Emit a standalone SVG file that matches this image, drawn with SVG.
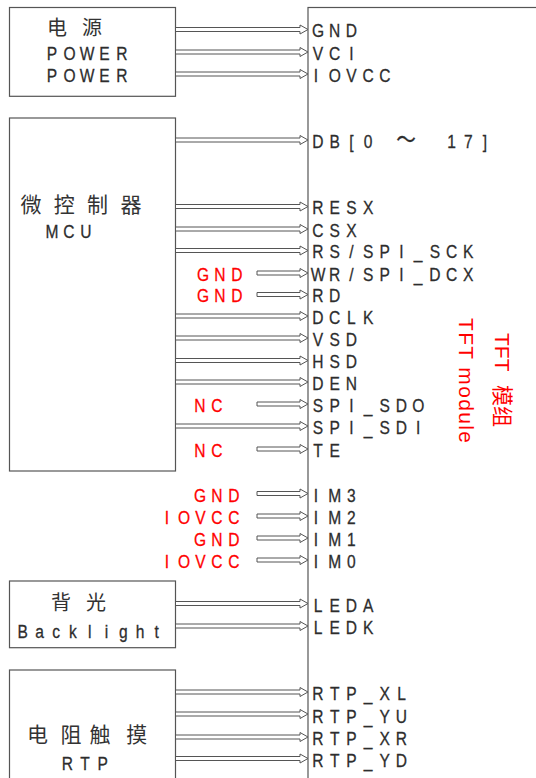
<svg xmlns="http://www.w3.org/2000/svg" xmlns:xlink="http://www.w3.org/1999/xlink" width="536" height="778" viewBox="0 0 536 778">
<style>
.box{fill:none;stroke:#555;stroke-width:1.2}
.t{font-family:"Liberation Sans","Noto Sans CJK SC",sans-serif;font-size:19px;fill:#2d2d2d;stroke:#2d2d2d;stroke-width:0.3;text-anchor:middle}
.r{fill:#ff0000;stroke:#ff0000}
.cjk{font-family:"Noto Sans CJK SC",sans-serif;font-size:20px;fill:#333;text-anchor:middle}
.rot{font-family:"Liberation Sans","Noto Sans CJK SC",sans-serif;font-size:21px;fill:#ff0000}
.arr{fill:#fff;stroke:#555;stroke-width:1}
</style>
<defs>
<path id="aL" class="arr" d="M176,-2H300V-4.5L308,0L300,4.5V2H176"/>
<path id="aS" class="arr" d="M257,-2H300V-4.5L308,0L300,4.5V2H257Z"/>
</defs>
<rect width="536" height="778" fill="#fff"/>

<g id="power">
<rect class="box" x="9.5" y="7.5" width="166" height="88.8"/>
<text class="cjk" x="57 92" y="35.3">电源</text>
<text class="t" transform="scale(0.82,1)" x="63.41 84.76 106.1 127.44 148.78" y="60">POWER</text>
<text class="t" transform="scale(0.82,1)" x="63.41 84.76 106.1 127.44 148.78" y="82.3">POWER</text>
</g>

<g id="mcu">
<rect class="box" x="9.5" y="118" width="166" height="353"/>
<text class="cjk" style="font-size:21px" x="31 64.3 97.6 131" y="211.5">微控制器</text>
<text class="t" transform="scale(0.82,1)" x="63.41 84.15 104.88" y="238">MCU</text>
</g>

<g id="backlight">
<rect class="box" x="9.5" y="581" width="166" height="66.7"/>
<text class="cjk" x="61 96" y="609.5">背光</text>
<text class="t" transform="scale(0.82,1)" x="27.8 48.22 68.63 89.05 109.46 129.88 150.29 170.71 191.12" y="638.3">Backlight</text>
</g>

<g id="rtp">
<rect class="box" x="9.5" y="670" width="166" height="140"/>
<text class="cjk" style="font-size:21px" x="37.5 71 100 136.7" y="742">电阻触摸</text>
<text class="t" transform="scale(0.82,1)" x="82.32 103.66 125.37" y="770.5">RTP</text>
</g>

<g id="sources" class="t r" transform="scale(0.82,1)">
<text x="247.56 268.29 289.02" y="280.7">GND</text>
<text x="247.56 268.29 289.02" y="302.3">GND</text>
<text x="243.9 264.63" y="411.7">NC</text>
<text x="243.9 264.63" y="456.7">NC</text>
<text x="243.9 264.63 285.37" y="501.7">GND</text>
<text x="203.66 224.39 244.51 264.63 285.37" y="524">IOVCC</text>
<text x="243.9 264.63 285.37" y="546">GND</text>
<text x="203.66 224.39 244.51 264.63 285.37" y="567.7">IOVCC</text>
</g>

<g id="tft">
<rect class="box" x="308" y="7.5" width="300" height="830"/>
<g class="t" transform="scale(0.82,1)">
<text x="387.8 408.17 428.54" y="37.3">GND</text>
<text x="387.8 408.17 428.54" y="60">VCI</text>
<text x="385.4 408.17 428.54 448.9 469.27" y="82.3">IOVCC</text>
<text y="148.5"><tspan x="387.8 408.17 428.54 448.9">DB[0</tspan><tspan x="495.1" style="font-size:24px">～</tspan><tspan x="550.73 571.1 591.46">17]</tspan></text>
<text x="387.8 408.17 428.54 448.9" y="214.3">RESX</text>
<text x="387.8 408.17 428.54" y="236.7">CSX</text>
<text x="387.8 408.17 428.54 448.9 469.27 489.63 510 530.37 550.73 571.1" y="258.3">RS/SPI_SCK</text>
<text x="387.8 408.17 428.54 448.9 469.27 489.63 510 530.37 550.73 571.1" y="280.7">WR/SPI_DCX</text>
<text x="387.8 408.17" y="302.3">RD</text>
<text x="387.8 408.17 428.54 448.9" y="324">DCLK</text>
<text x="387.8 408.17 428.54" y="346">VSD</text>
<text x="387.8 408.17 428.54" y="368.3">HSD</text>
<text x="387.8 408.17 428.54" y="390">DEN</text>
<text x="387.8 408.17 428.54 448.9 469.27 489.63 510" y="411.7">SPI_SDO</text>
<text x="387.8 408.17 428.54 448.9 469.27 489.63 510" y="434">SPI_SDI</text>
<text x="387.8 408.17" y="456.7">TE</text>
<text x="385.4 408.17 428.54" y="501.7">IM3</text>
<text x="385.4 408.17 428.54" y="524">IM2</text>
<text x="385.4 408.17 428.54" y="546">IM1</text>
<text x="385.4 408.17 428.54" y="567.7">IM0</text>
<text x="387.8 408.17 428.54 448.9" y="612.3">LEDA</text>
<text x="387.8 408.17 428.54 448.9" y="634">LEDK</text>
<text x="387.8 408.17 428.54 448.9 469.27 489.63" y="700">RTP_XL</text>
<text x="387.8 408.17 428.54 448.9 469.27 489.63" y="722.7">RTP_YU</text>
<text x="387.8 408.17 428.54 448.9 469.27 489.63" y="745">RTP_XR</text>
<text x="387.8 408.17 428.54 448.9 469.27 489.63" y="766.7">RTP_YD</text>
</g>
<text class="rot" transform="translate(459,318) rotate(90)" x="0" y="0" textLength="125" lengthAdjust="spacing">TFT module</text>
<text class="rot" transform="translate(495,333) rotate(90)" y="0"><tspan x="0">TFT</tspan><tspan x="52">模组</tspan></text>
</g>

<g id="connectors">
<use xlink:href="#aL" y="29.5"/>
<use xlink:href="#aL" y="52"/>
<use xlink:href="#aL" y="74"/>
<use xlink:href="#aL" y="140"/>
<use xlink:href="#aL" y="206.5"/>
<use xlink:href="#aL" y="229"/>
<use xlink:href="#aL" y="250.5"/>
<use xlink:href="#aS" y="273"/>
<use xlink:href="#aS" y="294.5"/>
<use xlink:href="#aL" y="316"/>
<use xlink:href="#aL" y="338"/>
<use xlink:href="#aL" y="360.5"/>
<use xlink:href="#aL" y="382"/>
<use xlink:href="#aS" y="404"/>
<use xlink:href="#aL" y="426"/>
<use xlink:href="#aS" y="449"/>
<use xlink:href="#aS" y="493.5"/>
<use xlink:href="#aS" y="516"/>
<use xlink:href="#aS" y="538"/>
<use xlink:href="#aS" y="560"/>
<use xlink:href="#aL" y="603.5"/>
<use xlink:href="#aL" y="626"/>
<use xlink:href="#aL" y="692"/>
<use xlink:href="#aL" y="714"/>
<use xlink:href="#aL" y="737"/>
<use xlink:href="#aL" y="758.5"/>
</g>
</svg>
